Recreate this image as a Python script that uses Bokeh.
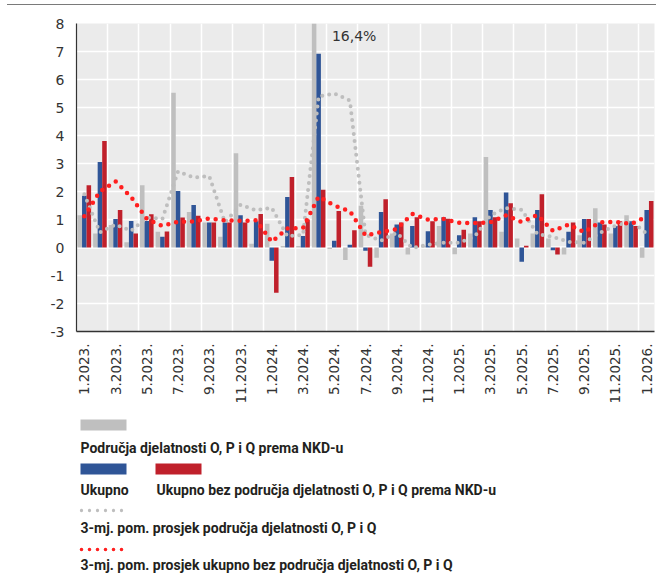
import numpy as np
from bokeh.plotting import figure
from bokeh.models import ColumnDataSource, Range1d, FixedTicker, Label, Span, Div
from bokeh.layouts import column
from bokeh.transform import dodge
from bokeh.embed import file_html
from bokeh.resources import INLINE
from bokeh.core.properties import value

months = ["1.2023.", "2.2023.", "3.2023.", "4.2023.", "5.2023.", "6.2023.",
          "7.2023.", "8.2023.", "9.2023.", "10.2023.", "11.2023.", "12.2023.",
          "1.2024.", "2.2024.", "3.2024.", "4.2024.", "5.2024.", "6.2024.",
          "7.2024.", "8.2024.", "9.2024.", "10.2024.", "11.2024.", "12.2024.",
          "1.2025.", "2.2025.", "3.2025.", "4.2025.", "5.2025.", "6.2025.",
          "7.2025.", "8.2025.", "9.2025.", "10.2025.", "11.2025.", "12.2025.",
          "1.2026."]

# Područja djelatnosti O, P i Q prema NKD-u
opq = [1.15, 0.50, 0.80, 0.19, 2.22, 0.56, 5.53, 1.27, 0.89, 0.38, 3.37, 0.13,
       0.85, 0.05, 0.05, 16.4, -0.05, -0.45, 1.49, -0.37, 0.50, -0.25, 0.05, 0.77,
       -0.24, 0.50, 3.23, 0.56, 0.32, 0.50, 0.32, -0.25, 0.44, 1.40, 0.50, 1.15,
       -0.37]
# Ukupno
total = [1.85, 3.05, 1.02, 0.95, 0.95, 0.38, 2.02, 1.52, 0.89, 0.89, 1.15, 0.94,
         -0.47, 1.80, 0.41, 6.92, 0.24, 0.10, -0.12, 1.27, 0.82, 0.77, 0.58, 1.08,
         0.44, 1.08, 1.34, 1.96, -0.51, 1.34, -0.10, 0.56, 1.02, 0.89, 0.77, 0.94,
         1.34]
# Ukupno bez područja djelatnosti O, P i Q
total_ex = [2.22, 3.80, 1.34, 0.50, 1.19, 0.57, 1.07, 1.13, 0.89, 0.89, 0.89, 1.20,
            -1.62, 2.52, 1.00, 2.06, 1.30, 0.62, -0.69, 1.72, 0.89, 1.08, 0.94, 1.03,
            0.63, 0.94, 1.08, 1.58, 0.06, 1.90, -0.25, 0.89, 1.02, 0.82, 0.94, 0.77,
            1.66]
# 3-mj. pom. prosjek područja djelatnosti O, P i Q
opq_ma = [1.90, 0.54, 0.82, 0.60, 1.07, 1.02, 2.72, 2.50, 2.55, 0.90, 1.52, 1.33,
          1.42, 0.40, 0.45, 5.40, 5.50, 5.25, 0.45, 0.25, 0.52, -0.02, 0.10, 0.17,
          0.17, 0.40, 1.15, 1.41, 1.35, 0.48, 0.38, 0.20, 0.17, 0.52, 0.78, 0.95,
          0.50]
# 3-mj. pom. prosjek ukupno bez područja djelatnosti O, P i Q
total_ex_ma = [1.12, 2.00, 2.36, 1.80, 1.02, 0.77, 0.92, 0.93, 1.04, 0.97, 0.95, 0.97,
               0.20, 0.68, 0.70, 1.82, 1.50, 1.30, 0.43, 0.55, 0.66, 1.20, 1.00, 1.02,
               0.88, 0.87, 0.90, 1.15, 0.91, 1.16, 0.59, 0.82, 0.55, 0.90, 0.92, 0.84,
               1.10]

y_ticks = [-3, -2, -1, 0, 1, 2, 3, 4, 5, 6, 7, 8]

legend_labels = ["Područja djelatnosti O, P i Q prema NKD-u",
                 "Ukupno",
                 "Ukupno bez područja djelatnosti O, P i Q prema NKD-u",
                 "3-mj. pom. prosjek područja djelatnosti O, P i Q",
                 "3-mj. pom. prosjek ukupno bez područja djelatnosti O, P i Q"]

GRAY = "#BFBFBF"
BLUE = "#2F5597"
RED = "#C0202B"
RED_DOT = "#FF1F1F"
GRAY_DOT = "#BEBEBE"
TXT = "#333333"

W = 656
LEFT_B = 76
RIGHT_B = 2
FRAME_W = W - LEFT_B - RIGHT_B
TOP_H = 10
FRAME_TOP = 23
FRAME_H = 308
BOTTOM_B = 78
MAIN_H = FRAME_H + (FRAME_TOP - TOP_H) + BOTTOM_B
LEG_TOP = TOP_H + MAIN_H
LEG_H = 574 - LEG_TOP

# thin rule at the top of the page
top = Div(text='<svg width="656" height="10" style="display:block">'
               '<line x1="7" y1="2.5" x2="656" y2="2.5" stroke="#7A7A7A" '
               'stroke-width="1.2"/></svg>',
          width=W, height=TOP_H, margin=(0, 0, 0, 0))

n = len(months)
xs = [i + 0.5 for i in range(n)]
src = ColumnDataSource(dict(x=xs, opq=opq, total=total, total_ex=total_ex,
                            opq_ma=opq_ma, total_ex_ma=total_ex_ma))

p = figure(frame_width=FRAME_W, frame_height=FRAME_H,
           x_range=Range1d(0, n), y_range=Range1d(-3, 8),
           output_backend="svg", toolbar_location=None,
           min_border_left=LEFT_B, min_border_right=RIGHT_B,
           min_border_top=FRAME_TOP - TOP_H, min_border_bottom=BOTTOM_B)
p.background_fill_color = "#EBEBEB"
p.border_fill_color = "white"
p.outline_line_color = None

bw = 0.29
p.vbar(x=dodge('x', -bw, range=p.x_range), top='opq', width=bw, source=src,
       fill_color=GRAY, line_color=None)
p.vbar(x=dodge('x', 0, range=p.x_range), top='total', width=bw, source=src,
       fill_color=BLUE, line_color=None)
p.vbar(x=dodge('x', bw, range=p.x_range), top='total_ex', width=bw, source=src,
       fill_color=RED, line_color=None)

p.line('x', 'opq_ma', source=src, line_color=GRAY_DOT, line_width=4,
       line_dash="0 7", line_cap="round")
p.line('x', 'total_ex_ma', source=src, line_color=RED_DOT, line_width=4.5,
       line_dash="0 8", line_cap="round")

# grid
p.xgrid.ticker = FixedTicker(ticks=list(range(2, n, 2)))
p.ygrid.ticker = FixedTicker(ticks=y_ticks)
p.xgrid.grid_line_color = "white"
p.ygrid.grid_line_color = "white"
p.xgrid.grid_line_width = 1.5
p.ygrid.grid_line_width = 1.5
p.add_layout(Span(location=0, dimension="width", line_color="white",
                  line_width=2.5, level="underlay"))

# axes
xa = p.xaxis[0]
xa.ticker = FixedTicker(ticks=[xs[i] for i in range(0, n, 2)])
xa.major_label_overrides = {xs[i]: months[i] for i in range(0, n, 2)}
xa.major_label_orientation = np.pi / 2
xa.major_tick_line_color = None
xa.minor_tick_line_color = None
xa.major_label_standoff = 6
xa.axis_line_color = "#333333"
xa.axis_line_width = 1.5
xa.major_label_text_font = "DejaVu Sans"
xa.major_label_text_font_size = "13.5px"
xa.major_label_text_color = TXT

ya = p.yaxis[0]
ya.ticker = FixedTicker(ticks=y_ticks)
ya.major_label_overrides = {t: str(t) for t in y_ticks}
ya.major_tick_line_color = None
ya.minor_tick_line_color = None
ya.major_label_standoff = 6
ya.axis_line_color = "#333333"
ya.axis_line_width = 1.2
ya.major_label_text_font = "DejaVu Sans"
ya.major_label_text_font_size = "14px"
ya.major_label_text_color = TXT

p.add_layout(Label(x=16.35, y=7.55, text="16,4%", text_font="DejaVu Sans",
                   text_font_size="14px", text_color=TXT, text_baseline="middle"))
p.add_layout(Label(x=-4.25, y=8.0, text="%", text_font="DejaVu Sans",
                   text_font_size="13px", text_color="#555555", text_baseline="middle"))

# legend figure: its frame is aligned with the main frame, so data = page pixels
leg = figure(frame_width=FRAME_W, frame_height=LEG_H,
             x_range=Range1d(LEFT_B, W - RIGHT_B), y_range=Range1d(574, LEG_TOP),
             output_backend="svg", toolbar_location=None,
             min_border_left=LEFT_B, min_border_right=RIGHT_B,
             min_border_top=0, min_border_bottom=0,
             x_axis_location=None, y_axis_location=None)
leg.grid.visible = False
leg.outline_line_color = None
leg.background_fill_color = "white"

leg.quad(left=[80, 80, 155], right=[126, 126, 201], top=[419, 463, 463],
         bottom=[430, 474, 474], fill_color=[GRAY, BLUE, RED], line_color=None)
leg.line([81, 127], [510, 510], line_color=GRAY_DOT, line_width=3.3,
         line_dash="0 8", line_cap="round")
leg.line([81, 127], [549, 549], line_color=RED_DOT, line_width=3.6,
         line_dash="0 8", line_cap="round")
leg.text(x=[80, 80, 156, 80, 80], y=[447, 489, 489, 527, 564], text=legend_labels,
         text_font=value("Roboto"), text_font_size="14px", text_font_style="bold",
         text_color="#231F20", text_baseline="middle", text_align="left")

lay = column(top, p, leg, spacing=0)
open("out.html", "w").write(file_html(lay, INLINE))
